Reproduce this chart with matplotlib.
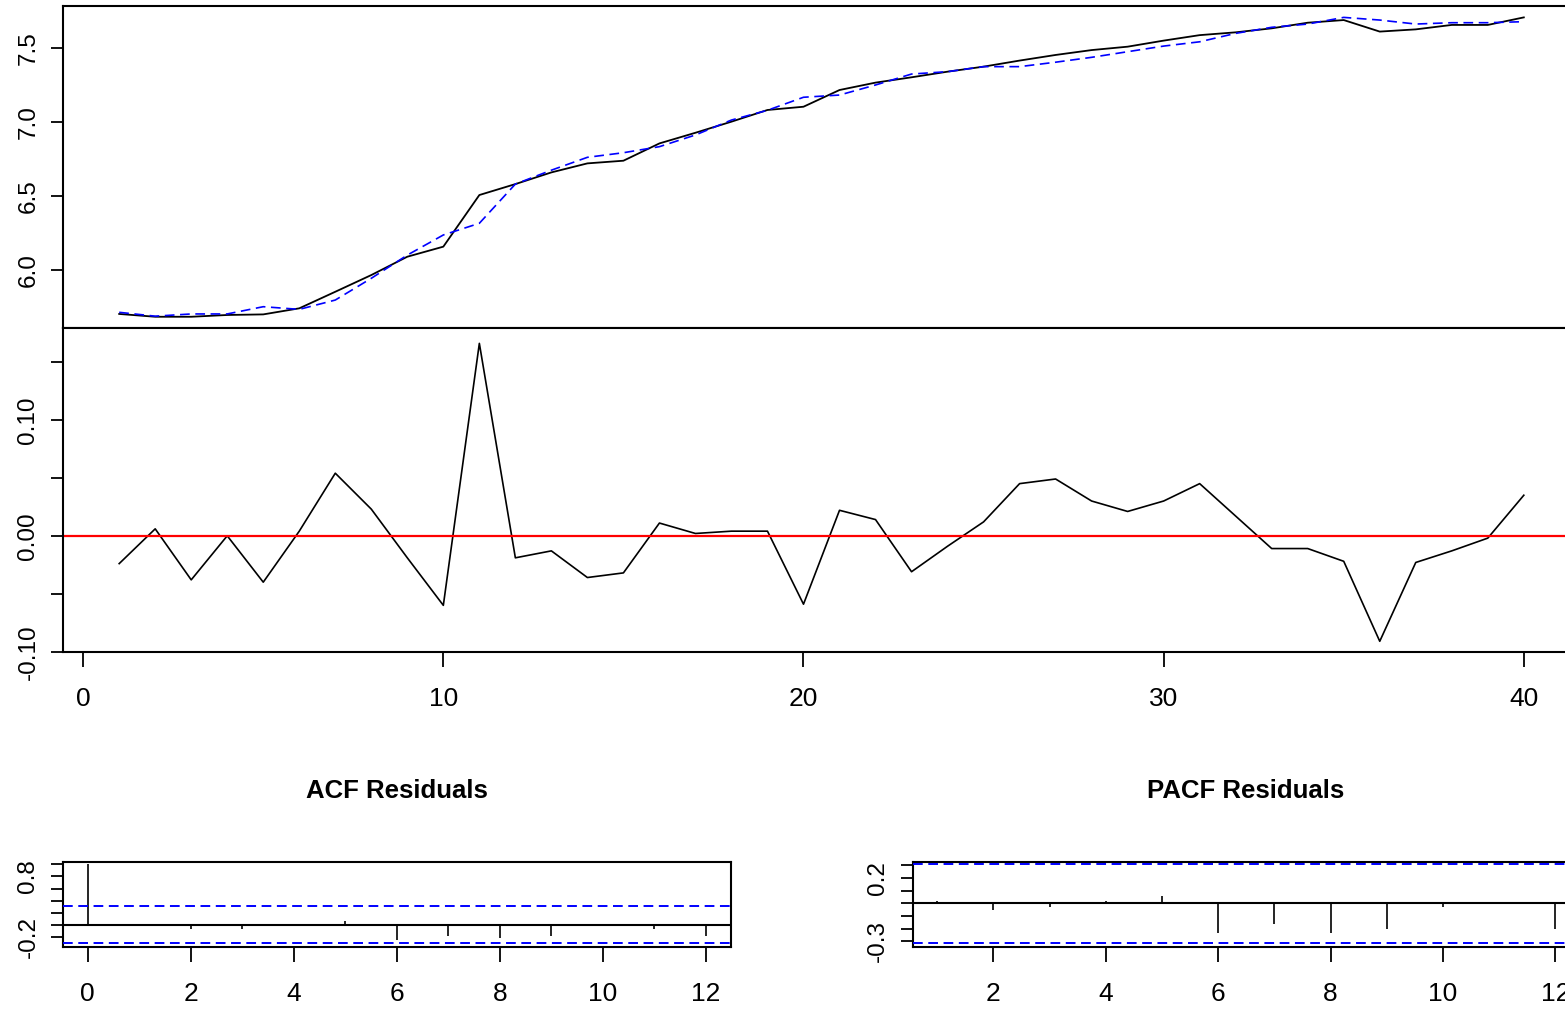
import numpy as np
import matplotlib
matplotlib.use("Agg")
import matplotlib.pyplot as plt

# observed series (black) and fitted values (blue dashed)
t = np.arange(1, 41)
observed = [5.703, 5.684, 5.684, 5.696, 5.700, 5.741, 5.853, 5.966, 6.090, 6.158,
            6.507, 6.581, 6.660, 6.721, 6.739, 6.856, 6.928, 7.003, 7.082, 7.104,
            7.217, 7.267, 7.303, 7.341, 7.375, 7.416, 7.454, 7.487, 7.510, 7.551,
            7.588, 7.607, 7.634, 7.672, 7.690, 7.612, 7.627, 7.657, 7.657, 7.708]
fitted = [5.714, 5.688, 5.703, 5.703, 5.752, 5.734, 5.797, 5.944, 6.101, 6.237,
          6.316, 6.581, 6.675, 6.762, 6.793, 6.834, 6.913, 7.014, 7.080, 7.168,
          7.183, 7.251, 7.325, 7.341, 7.375, 7.375, 7.405, 7.438, 7.476, 7.514,
          7.543, 7.600, 7.641, 7.663, 7.708, 7.690, 7.663, 7.672, 7.672, 7.679]
residuals = [-0.024, 0.006, -0.038, 0.000, -0.040, 0.004, 0.054, 0.023, -0.019, -0.060,
             0.166, -0.019, -0.013, -0.036, -0.032, 0.011, 0.002, 0.004, 0.004, -0.059,
             0.022, 0.014, -0.031, -0.009, 0.012, 0.045, 0.049, 0.030, 0.021, 0.030,
             0.045, 0.017, -0.011, -0.011, -0.022, -0.091, -0.023, -0.013, -0.002, 0.035]

acf_lags = np.arange(0, 13)
acf_vals = [1.0, 0.005, -0.07, -0.07, -0.005, 0.055, -0.25, -0.18, -0.22, -0.18,
            -0.005, -0.07, -0.18]
pacf_lags = np.arange(1, 13)
pacf_vals = [0.02, -0.05, -0.03, 0.02, 0.055, -0.233, -0.16, -0.233, -0.20, -0.03,
             -0.005, -0.20]
conf = 0.31

W, H = 1565, 1009


def px_axes(fig, left, top, right, bottom):
    return fig.add_axes([left / W, 1 - bottom / H, (right - left) / W, (bottom - top) / H])


def style(ax):
    for s in ax.spines.values():
        s.set_linewidth(1.5)
    ax.tick_params(axis="y", length=9, width=1.3, pad=8, labelsize=17.5, labelrotation=90)
    for lab in ax.get_yticklabels():
        lab.set_verticalalignment("center")
    ax.tick_params(axis="x", length=11, width=1.3, pad=14, labelsize=19)
    for lab in ax.get_xticklabels():
        lab.set_family(["Liberation Sans Narrow", "Liberation Sans", "DejaVu Sans"])


def main():
    plt.rcParams["font.family"] = ["Liberation Sans", "DejaVu Sans"]
    plt.rcParams["lines.scale_dashes"] = False
    dash = (0, (7, 4))

    fig = plt.figure(figsize=(W / 100, H / 100), dpi=100)

    # top: series and fit
    ax1 = px_axes(fig, 63, 6, 1580, 328.3)
    ax1.plot(t, observed, color="black", lw=1.3)
    ax1.plot(t, fitted, color="blue", lw=1.2, linestyle=dash)
    ax1.set_xlim(-0.56, 41.56)
    ax1.set_ylim(5.606, 7.785)
    ax1.set_yticks([6.0, 6.5, 7.0, 7.5])
    ax1.set_yticklabels(["6.0", "6.5", "7.0", "7.5"])
    ax1.tick_params(axis="x", bottom=False, labelbottom=False)
    style(ax1)

    # middle: residuals
    ax2 = px_axes(fig, 63, 328.3, 1580, 652.3)
    ax2.plot(t, residuals, color="black", lw=1.2)
    ax2.axhline(0, color="red", lw=1.6)
    ax2.set_xlim(-0.56, 41.56)
    ax2.set_ylim(-0.1005, 0.179)
    ax2.set_yticks([-0.10, -0.05, 0.0, 0.05, 0.10, 0.15])
    ax2.set_yticklabels(["-0.10", "", "0.00", "", "0.10", ""])
    ax2.set_xticks([0, 10, 20, 30, 40])
    ax2.set_xticklabels(["0", "10", "20", "30", "40"])
    style(ax2)

    # ACF of residuals
    ax3 = px_axes(fig, 63, 861.7, 730.6, 947.3)
    ax3.vlines(acf_lags, 0, acf_vals, color="black", lw=1.2)
    ax3.axhline(0, color="black", lw=1.5)
    ax3.axhline(conf, color="blue", lw=1.4, linestyle=dash, zorder=3)
    ax3.axhline(-conf, color="blue", lw=1.4, linestyle=dash, zorder=3)
    ax3.set_xlim(-0.48, 12.48)
    ax3.set_ylim(-0.375, 1.045)
    ax3.set_yticks([-0.2, 0.0, 0.2, 0.4, 0.6, 0.8, 1.0])
    ax3.set_yticklabels(["-0.2", "", "", "", "", "0.8", ""])
    ax3.set_xticks(range(0, 13, 2))
    ax3.set_xticklabels([str(v) for v in range(0, 13, 2)])
    style(ax3)

    # PACF of residuals
    ax4 = px_axes(fig, 912.6, 861.7, 1580, 947.3)
    ax4.vlines(pacf_lags, 0, pacf_vals, color="black", lw=1.2)
    ax4.axhline(0, color="black", lw=1.5)
    ax4.axhline(conf, color="blue", lw=1.4, linestyle=dash, zorder=3)
    ax4.axhline(-conf, color="blue", lw=1.4, linestyle=dash, zorder=3)
    ax4.set_xlim(0.56, 12.44)
    ax4.set_ylim(-0.347, 0.328)
    ax4.set_yticks([-0.3, -0.2, -0.1, 0.0, 0.1, 0.2, 0.3])
    ax4.set_yticklabels(["-0.3", "", "", "", "", "0.2", ""])
    ax4.set_xticks(range(2, 13, 2))
    ax4.set_xticklabels([str(v) for v in range(2, 13, 2)])
    style(ax4)

    fig.text(397 / W, 1 - 791 / H, "ACF Residuals", ha="center", va="center",
             fontsize=18.5, fontweight="bold")
    fig.text(1246 / W, 1 - 791 / H, "PACF Residuals", ha="center", va="center",
             fontsize=18.5, fontweight="bold")

    fig.savefig("out.png", dpi=100)


if __name__ == "__main__":
    main()
